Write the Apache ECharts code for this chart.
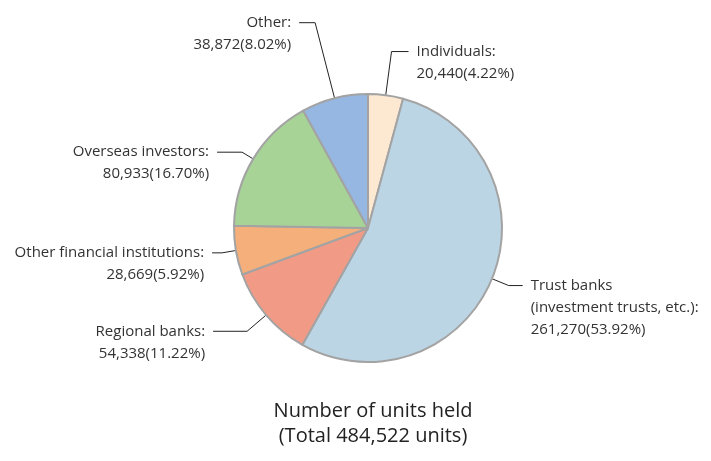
<!DOCTYPE html>
<html>
<head>
<meta charset="utf-8">
<script src="https://cdn.jsdelivr.net/npm/echarts@6/dist/echarts.min.js"></script>
<style>
  html, body { margin: 0; padding: 0; background: #fff; }
  #chart { width: 711px; height: 461px; }
</style>
</head>
<body>
<div id="chart"></div>
<script>
  // values, clockwise from 12 o'clock
  var categories = ['Individuals', 'Trust banks\n(investment trusts, etc.)', 'Regional banks',
                    'Other financial institutions', 'Overseas investors', 'Other'];
  var units = [20440, 261270, 54338, 28669, 80933, 38872];
  var shares = ['4.22', '53.92', '11.22', '5.92', '16.70', '8.02'];
  var titleLines = ['Number of units held', '(Total 484,522 units)'];

  var colors = ['#fde9d2', '#bcd5e5', '#f19b86', '#f5af7a', '#a8d397', '#95b7e1'];
  // leader line lengths [radial, horizontal] per slice
  var leader = [[44, 17], [18, 14], [25, 34], [14, 10], [13, 25], [78, 16]];

  function fmt(n) {
    return n.toString().replace(/\B(?=(\d{3})+(?!\d))/g, ',');
  }

  var chart = echarts.init(document.getElementById('chart'));

  var seriesData = [];
  for (var i = 0; i < categories.length; i++) {
    seriesData.push({
      name: categories[i],
      value: units[i],
      share: shares[i],
      itemStyle: { color: colors[i] },
      labelLine: { length: leader[i][0], length2: leader[i][1] }
    });
  }

  var option = {
    animation: false,
    title: {
      text: titleLines.join('\n'),
      left: 368,
      textAlign: 'center',
      top: 394,
      textStyle: {
        fontFamily: 'Open Sans',
        fontSize: 20,
        fontWeight: 'normal',
        color: '#222',
        lineHeight: 25
      }
    },
    series: [{
      type: 'pie',
      center: [368, 228],
      radius: 134,
      startAngle: 90,
      clockwise: true,
      avoidLabelOverlap: false,
      itemStyle: { borderColor: '#a3a3a3', borderWidth: 2 },
      label: {
        show: true,
        position: 'outside',
        distanceToLabelLine: 8,
        fontFamily: 'Open Sans',
        fontSize: 15,
        lineHeight: 22,
        color: '#333',
        formatter: function (p) {
          var lines = (p.name + ':').split('\n');
          lines.push(fmt(p.value) + '(' + p.data.share + '%)');
          // pad on top so the leader line meets the first line of text
          var pad = [];
          for (var k = 1; k < lines.length; k++) pad.push('');
          return pad.concat(lines).join('\n');
        }
      },
      labelLine: {
        show: true,
        smooth: false,
        lineStyle: { color: '#222', width: 1 }
      },
      data: seriesData
    }]
  };

  chart.setOption(option);
</script>
</body>
</html>
